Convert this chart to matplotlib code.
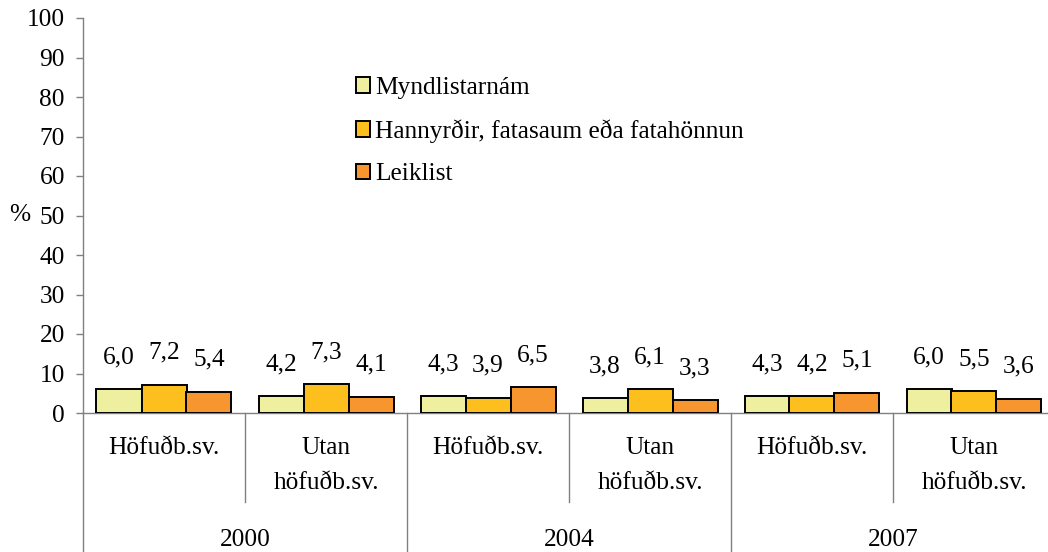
import matplotlib
matplotlib.use("Agg")
import matplotlib.pyplot as plt
import matplotlib.transforms as mtransforms
import numpy as np

plt.rcParams['font.family'] = 'serif'
plt.rcParams['font.serif'] = ['Liberation Serif', 'DejaVu Serif']

categories = ["Höfuðb.sv.", "Utan\nhöfuðb.sv.", "Höfuðb.sv.", "Utan\nhöfuðb.sv.", "Höfuðb.sv.", "Utan\nhöfuðb.sv."]
years = ["2000", "2004", "2007"]
series_names = ["Myndlistarnám", "Hannyrðir, fatasaum eða fatahönnun", "Leiklist"]
myndlist = [6.0, 4.2, 4.3, 3.8, 4.3, 6.0]
hannyrdir = [7.2, 7.3, 3.9, 6.1, 4.2, 5.5]
leiklist = [5.4, 4.1, 6.5, 3.3, 5.1, 3.6]
colors = ["#EEF0A0", "#FDBF1E", "#F7952E"]
yticks = [0, 10, 20, 30, 40, 50, 60, 70, 80, 90, 100]

FONT = "Liberation Serif"
FS = 18.3
W, H = 1048, 552
fig = plt.figure(figsize=(W / 100, H / 100), dpi=100)
ax = fig.add_axes([83 / W, (H - 413) / H, (W - 83) / W, 395 / H])

n = len(categories)
x = np.arange(n) + 0.5
bw = 45 / 162
series = [myndlist, hannyrdir, leiklist]
handles = []
for k, (vals, col, name) in enumerate(zip(series, colors, series_names)):
    pos = x + (k - 1) * bw
    b = ax.bar(pos, vals, width=bw, color=col, edgecolor="black", linewidth=1.4, label=name, zorder=3)
    handles.append(b)
    for xi, v in zip(pos, vals):
        ax.annotate(f"{v:.1f}".replace(".", ","), (xi, v), xytext=(0, 23), textcoords="offset points",
                    ha="center", va="center", fontsize=FS, family=FONT)

ax.set_xlim(0, (W - 83) / 162)
ax.set_ylim(0, 100)
ax.set_yticks(yticks)
ax.set_xticks([])
ax.tick_params(axis="y", direction="out", length=5, width=1, color="#808080", pad=8, labelsize=FS)
for lab in ax.get_yticklabels():
    lab.set_family(FONT)
for s in ["top", "right"]:
    ax.spines[s].set_visible(False)
for s in ["left", "bottom"]:
    ax.spines[s].set_color("#808080")
    ax.spines[s].set_linewidth(1)

trans = mtransforms.blended_transform_factory(ax.transData, ax.transAxes)
for i in [1, 3, 5]:
    ax.plot([i, i], [0, -89 / 395], transform=trans, color="#808080", lw=1, clip_on=False)
for i in [0, 2, 4, 6]:
    ax.plot([i, i], [0, -145 / 395], transform=trans, color="#808080", lw=1, clip_on=False)

for xi, lab in zip(x, categories):
    ax.text(xi, -24 / 395, lab, transform=trans, ha="center", va="top", fontsize=FS,
            linespacing=1.78, family=FONT)
for j, yr in enumerate(years):
    ax.text(2 * j + 1, -127 / 395, yr, transform=trans, ha="center", va="center", fontsize=FS, family=FONT)

fig.text(20 / W, 1 - 215 / H, "%", ha="center", va="center", fontsize=FS, family=FONT)

ax.legend(handles=handles, loc="upper left", bbox_to_anchor=(356 / W, 1 - 77 / H),
          bbox_transform=fig.transFigure, frameon=False, prop={"family": FONT, "size": FS},
          handlelength=0.55, handleheight=0.55, handletextpad=0.2, labelspacing=0.8,
          borderpad=0, borderaxespad=0)

fig.savefig("out.png", dpi=100)
